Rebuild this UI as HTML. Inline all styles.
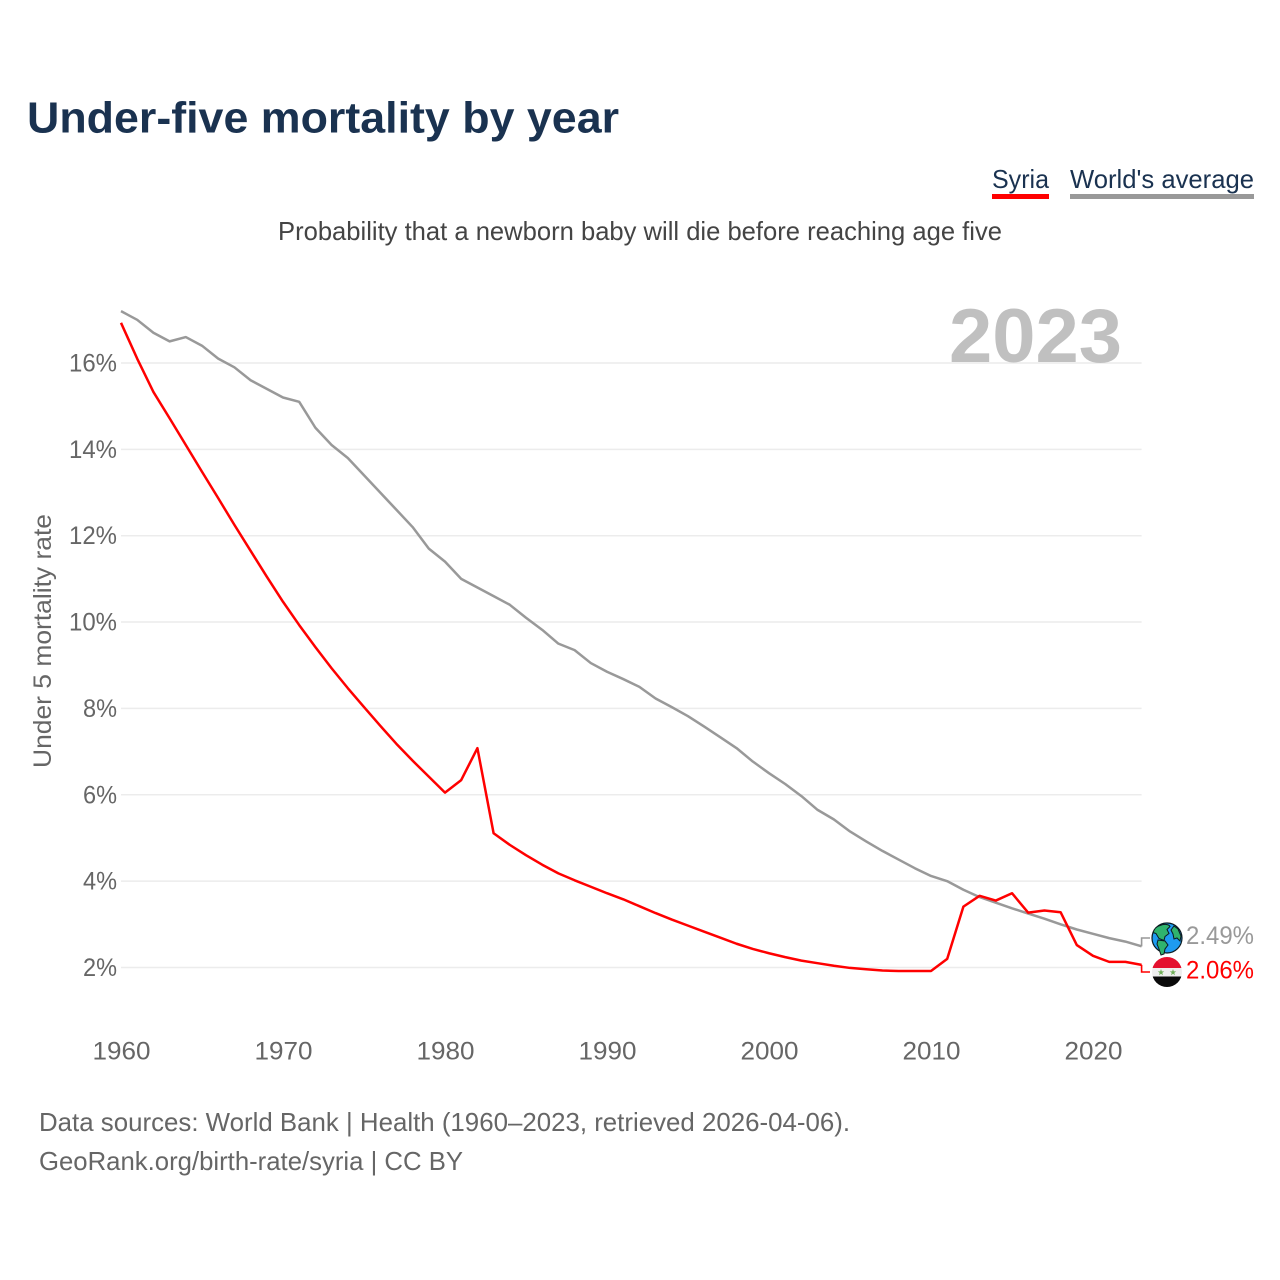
<!DOCTYPE html>
<html lang="en">
<head>
<meta charset="utf-8">
<title>Under-five mortality by year</title>
<style>
html,body{margin:0;padding:0;background:#fff;width:1280px;height:1280px;overflow:hidden}
svg{display:block}
text{font-family:"Liberation Sans",sans-serif}
</style>
</head>
<body>
<svg id="chart" xmlns="http://www.w3.org/2000/svg" width="1280" height="1280" viewBox="0 0 1280 1280">
  <rect width="1280" height="1280" fill="#fff"/>
  <text x="27" y="132.5" font-size="44" font-weight="700" fill="#1a3250" textLength="592" lengthAdjust="spacingAndGlyphs">Under-five mortality by year</text>
  <g>
    <text x="992" y="188" font-size="26" fill="#1a3250" textLength="57" lengthAdjust="spacingAndGlyphs">Syria</text>
    <rect x="992" y="194" width="57" height="5" fill="#ff0000"/>
  </g>
  <g>
    <text x="1070" y="188" font-size="26" fill="#1a3250" textLength="184" lengthAdjust="spacingAndGlyphs">World's average</text>
    <rect x="1070" y="194" width="184" height="5" fill="#999999"/>
  </g>
  <text x="278" y="240" font-size="26" fill="#444" textLength="724" lengthAdjust="spacingAndGlyphs">Probability that a newborn baby will die before reaching age five</text>
  <g id="grid"></g>
  <text x="949" y="362" font-size="76" font-weight="700" fill="#c0c0c0" textLength="173" lengthAdjust="spacingAndGlyphs">2023</text>
  <g id="yticks"></g>
  <g id="xticks"></g>
  <text transform="translate(51,768) rotate(-90)" font-size="25" fill="#666" textLength="254" lengthAdjust="spacingAndGlyphs">Under 5 mortality rate</text>
  <path id="world-line" fill="none" stroke="#999999" stroke-width="2.5" stroke-linejoin="round"/>
  <path id="syria-line" fill="none" stroke="#ff0000" stroke-width="2.5" stroke-linejoin="round"/>
  <path id="world-leader" fill="none" stroke="#999999" stroke-width="1.6"/>
  <path id="syria-leader" fill="none" stroke="#ff0000" stroke-width="1.6"/>

  <g>
    <circle cx="1167" cy="938" r="15" fill="#1e9bf0" stroke="#0b1a20" stroke-width="1.2"/>
    <path d="M1160 925.5c5-2 9-1 10 1l-3 3 2 4-4 3-1 4-5-2-3-5-3-1c1-3 3-6 7-7z" fill="#2fb36d" stroke="#0b1a20" stroke-width="1"/>
    <path d="M1158 940l7 1 3 4-3 4-1 5-3 1-2-6-2-5z" fill="#2fb36d" stroke="#0b1a20" stroke-width="1"/>
    <path d="M1174 926l4 3 3 7-1 5-3-3-3 1-1-5-2-4z" fill="#2fb36d" stroke="#0b1a20" stroke-width="1"/>
  </g>
  <g>
    <clipPath id="flag-clip"><circle cx="1167" cy="972" r="15"/></clipPath>
    <g clip-path="url(#flag-clip)">
      <rect x="1152" y="957" width="30" height="11" fill="#e4102e"/>
      <rect x="1152" y="968" width="30" height="8.5" fill="#eeeeee"/>
      <rect x="1152" y="976.5" width="30" height="10.5" fill="#0a0a0a"/>
      <polygon points="1161,969 1161.8,971.4 1164.2,971.4 1162.3,972.9 1163,975.2 1161,973.8 1159,975.2 1159.7,972.9 1157.8,971.4 1160.2,971.4" fill="#6fae57"/>
      <polygon points="1173,969 1173.8,971.4 1176.2,971.4 1174.3,972.9 1175,975.2 1173,973.8 1171,975.2 1171.7,972.9 1169.8,971.4 1172.2,971.4" fill="#6fae57"/>
    </g>
  </g>
  <text x="1186" y="944" font-size="25" fill="#999999" textLength="68" lengthAdjust="spacingAndGlyphs">2.49%</text>
  <text x="1186" y="978.5" font-size="25" fill="#ff0000" textLength="68" lengthAdjust="spacingAndGlyphs">2.06%</text>
  <text x="39" y="1131" font-size="26" fill="#666" textLength="811" lengthAdjust="spacingAndGlyphs">Data sources: World Bank | Health (1960–2023, retrieved 2026-04-06).</text>
  <text x="39" y="1170" font-size="26" fill="#666" textLength="424" lengthAdjust="spacingAndGlyphs">GeoRank.org/birth-rate/syria | CC BY</text>
</svg>
<script>
const firstYear = 1960;
const syriaValues = [16.93,16.1,15.33,14.72,14.1,13.48,12.87,12.25,11.65,11.05,10.47,9.93,9.42,8.93,8.47,8.03,7.6,7.18,6.79,6.42,6.05,6.34,7.08,5.11,4.84,4.6,4.38,4.18,4.02,3.87,3.72,3.58,3.42,3.26,3.11,2.97,2.83,2.69,2.55,2.43,2.33,2.24,2.16,2.1,2.04,1.99,1.96,1.93,1.92,1.92,1.92,2.2,3.41,3.66,3.55,3.72,3.27,3.32,3.28,2.52,2.27,2.13,2.13,2.06];
const worldValues = [17.2,17.0,16.7,16.5,16.6,16.4,16.1,15.9,15.6,15.4,15.2,15.1,14.5,14.1,13.8,13.4,13.0,12.6,12.2,11.7,11.4,11.0,10.8,10.6,10.4,10.1,9.82,9.5,9.35,9.05,8.85,8.68,8.5,8.23,8.03,7.82,7.58,7.33,7.08,6.77,6.5,6.25,5.97,5.65,5.43,5.15,4.92,4.7,4.5,4.3,4.12,4.0,3.8,3.63,3.5,3.37,3.25,3.13,3.0,2.88,2.78,2.68,2.6,2.49];
const yTickValues = [2,4,6,8,10,12,14,16];
const xTickValues = [1960,1970,1980,1990,2000,2010,2020];

const NS = 'http://www.w3.org/2000/svg';
function xScale(year){ return 121 + (year - 1960) * 16.2; }
function yScale(v){ return 967.5 - (v - 2) * 43.18; }
function linePath(values){
  return values.map(function(v,i){
    return (i ? 'L' : 'M') + xScale(firstYear + i).toFixed(2) + ' ' + yScale(v).toFixed(2);
  }).join('');
}
function leader(values, labelY){
  const last = values[values.length - 1];
  const xEnd = xScale(firstYear + values.length - 1);
  return 'M' + xEnd.toFixed(2) + ' ' + yScale(last).toFixed(2) + 'V' + labelY + 'H1150';
}
const grid = document.getElementById('grid');
const yG = document.getElementById('yticks');
const xG = document.getElementById('xticks');
yTickValues.forEach(function(v){
  const l = document.createElementNS(NS,'line');
  
  
  l.setAttribute('x1', xScale(1960));
  l.setAttribute('x2', xScale(2023));
  l.setAttribute('y1', yScale(v));
  l.setAttribute('y2', yScale(v));
  l.setAttribute('stroke', '#ececec');
  l.setAttribute('stroke-width', '1.5');
  grid.appendChild(l);
  const t = document.createElementNS(NS,'text');
  
  
  const label = v + '%';
  const w = label.length === 2 ? 34 : 48;
  t.setAttribute('x', 117 - w);
  t.setAttribute('y', yScale(v) + 8.5);
  t.setAttribute('font-size', '25');
  t.setAttribute('fill', '#666');
  t.setAttribute('textLength', w);
  t.setAttribute('lengthAdjust', 'spacingAndGlyphs');
  t.textContent = label;
  yG.appendChild(t);
});
xTickValues.forEach(function(year){
  const t = document.createElementNS(NS,'text');
  
  
  t.setAttribute('x', xScale(year) - 28.5);
  t.setAttribute('y', 1059.5);
  t.setAttribute('font-size', '25');
  t.setAttribute('fill', '#666');
  t.setAttribute('textLength', '58');
  t.setAttribute('lengthAdjust', 'spacingAndGlyphs');
  t.textContent = String(year);
  xG.appendChild(t);
});
document.getElementById('world-line').setAttribute('d', linePath(worldValues));
document.getElementById('syria-line').setAttribute('d', linePath(syriaValues));
document.getElementById('world-leader').setAttribute('d', leader(worldValues, 938));
document.getElementById('syria-leader').setAttribute('d', leader(syriaValues, 972));
</script>
</body>
</html>
